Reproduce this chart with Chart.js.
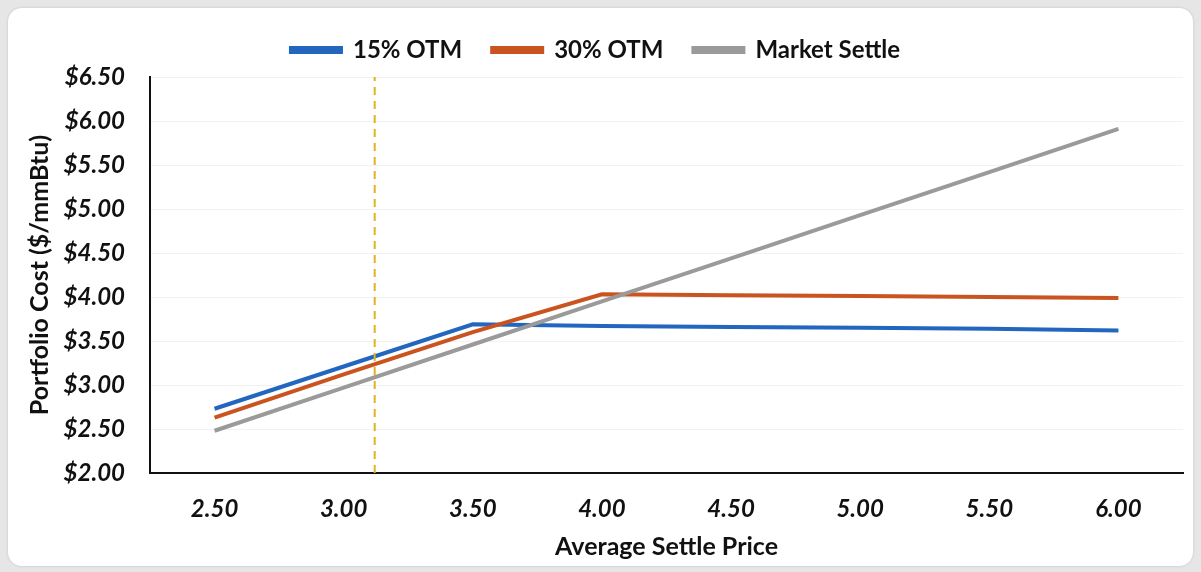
<!DOCTYPE html>
<html>
<head>
<meta charset="utf-8">
<script src="https://cdn.jsdelivr.net/npm/chart.js@4.4.1/dist/chart.umd.min.js"></script>
<style>
  html, body { margin: 0; padding: 0; background: #e6e6e6; }
  #panel { position: absolute; left: 8px; top: 8px; width: 1185px; height: 558px;
           background: #fff; border-radius: 14px; box-shadow: 0 0 3px rgba(0,0,0,0.15); }
  #myChart { display: block; }
</style>
</head>
<body>
<div id="panel"><canvas id="myChart" width="1185" height="558"></canvas></div>
<script>
  // data
  var settlePrices = [2.50, 3.00, 3.50, 4.00, 4.50, 5.00, 5.50, 6.00];
  var otm15 = [2.73, 3.21, 3.69, 3.67, 3.66, 3.65, 3.64, 3.62];
  var otm30 = [2.63, 3.12, 3.60, 4.03, 4.02, 4.01, 4.00, 3.99];
  var marketSettle = [2.48, 2.97, 3.46, 3.95, 4.44, 4.93, 5.42, 5.91];
  var currentPrice = 3.12;   // dashed marker
  var yTicks = [2.00, 2.50, 3.00, 3.50, 4.00, 4.50, 5.00, 5.50, 6.00, 6.50];

  function pts(vals) {
    return settlePrices.map(function (x, i) { return { x: x, y: vals[i] }; });
  }

  // a little extra room under the legend
  var legendGap = {
    id: 'legendGap',
    beforeInit: function (chart) {
      var fit = chart.legend.fit;
      chart.legend.fit = function () {
        fit.bind(chart.legend)();
        this.height += 5;
      };
    }
  };

  var ctx = document.getElementById("myChart").getContext('2d');
  var myChart = new Chart(ctx, {
    type: 'line',
    data: {
      datasets: [{
        label: '15% OTM',
        data: pts(otm15),
        borderColor: "#2266c0",
        backgroundColor: "#2266c0",
        borderWidth: 4,
        pointRadius: 0,
        order: 3
      }, {
        label: '30% OTM',
        data: pts(otm30),
        borderColor: "#c9541f",
        backgroundColor: "#c9541f",
        borderWidth: 4,
        pointRadius: 0,
        order: 2
      }, {
        label: 'Market Settle',
        data: pts(marketSettle),
        borderColor: "#9a9a9a",
        backgroundColor: "#9a9a9a",
        borderWidth: 4,
        pointRadius: 0,
        order: 1
      }, {
        label: 'marker',
        data: [{ x: currentPrice, y: yTicks[0] }, { x: currentPrice, y: yTicks[yTicks.length - 1] }],
        borderColor: "#e0b21c",
        borderWidth: 2,
        borderDash: [8, 6],
        pointRadius: 0,
        order: 0
      }]
    },
    plugins: [legendGap],
    options: {
      responsive: false,
      animation: false,
      layout: { padding: { top: 0, right: 10, left: 0, bottom: 0 } },
      plugins: {
        tooltip: { enabled: false },
        legend: {
          position: 'top',
          labels: {
            boxWidth: 50,
            boxHeight: 4,
            padding: 30,
            color: '#111',
            font: { family: 'Lato', size: 24, weight: 'bold' },
            filter: function (item) { return item.text !== 'marker'; },
            sort: function (a, b) { return a.datasetIndex - b.datasetIndex; }
          }
        }
      },
      scales: {
        x: {
          type: 'linear',
          min: 2.25,
          max: 6.25,
          afterBuildTicks: function (axis) {
            axis.ticks = settlePrices.map(function (v) { return { value: v }; });
          },
          afterFit: function (scale) { scale.height = 93; },
          grid: { display: false, drawTicks: false },
          border: { color: '#111', width: 2 },
          ticks: {
            padding: 22,
            color: '#111',
            maxRotation: 0,
            font: { family: 'Lato', size: 24, weight: 'bold', style: 'italic' },
            callback: function (v) { return Number(v).toFixed(2); }
          },
          title: {
            display: true,
            text: 'Average Settle Price',
            color: '#111',
            padding: { top: 0, bottom: 4 },
            font: { family: 'Lato', size: 25, weight: 'bold' }
          }
        },
        y: {
          min: 2,
          max: 6.5,
          afterBuildTicks: function (axis) {
            axis.ticks = yTicks.map(function (v) { return { value: v }; });
          },
          afterFit: function (scale) { scale.width = 142; },
          grid: { color: 'rgba(0,0,0,0.05)', drawTicks: false },
          border: { color: '#111', width: 2 },
          ticks: {
            padding: 25,
            color: '#111',
            font: { family: 'Lato', size: 24, weight: 'bold', style: 'italic' },
            callback: function (v) { return '$' + Number(v).toFixed(2); }
          },
          title: {
            display: true,
            text: 'Portfolio Cost ($/mmBtu)',
            color: '#111',
            padding: { top: 17, bottom: 0 },
            font: { family: 'Lato', size: 25, weight: 'bold' }
          }
        }
      }
    }
  });
</script>
</body>
</html>
